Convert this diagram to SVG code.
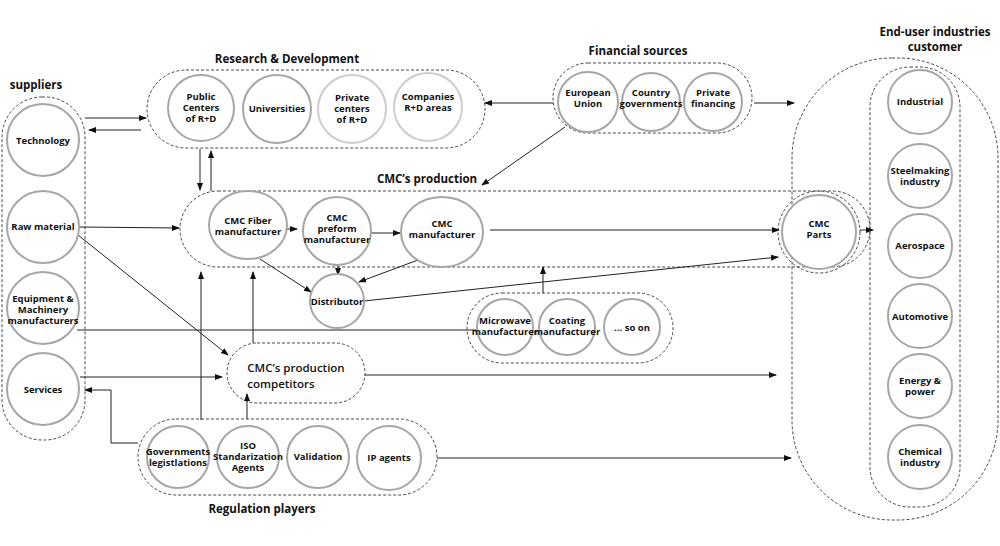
<svg xmlns="http://www.w3.org/2000/svg" width="1000" height="546" viewBox="0 0 1000 546">
<style>
.c{fill:#fff;stroke:#a6a6a6;stroke-width:2}
.d{fill:none;stroke:#333;stroke-width:0.9;stroke-dasharray:3,2}
.t{font-family:"Open Sans","Liberation Sans",sans-serif;font-weight:bold;font-size:9.5px;fill:#111;text-anchor:middle}
.h{font-family:"Open Sans","Liberation Sans",sans-serif;font-weight:bold;font-size:11.5px;fill:#111;text-anchor:middle}
.l{fill:none;stroke:#222;stroke-width:1}
</style>
<defs><marker id="a" markerWidth="8" markerHeight="8" refX="7" refY="4" orient="auto" markerUnits="userSpaceOnUse"><path d="M0,1 L8,4 L0,7z" fill="#111"/></marker></defs>
<rect width="1000" height="546" fill="#fff"/>
<g id="containers">
<rect class="d" x="2" y="97" width="83" height="343" rx="40"/>
<rect class="d" x="147" y="70" width="338" height="78" rx="39"/>
<rect class="d" x="553" y="63" width="199" height="70" rx="35"/>
<rect class="d" x="180" y="191" width="690" height="76" rx="38"/>
<circle class="d" cx="819" cy="232" r="41"/>
<rect class="d" x="467" y="293" width="206" height="70" rx="35"/>
<rect class="d" x="227" y="343" width="138" height="60" rx="30"/>
<rect class="d" x="138" y="419" width="299" height="76" rx="38"/>
<rect class="d" x="792" y="58" width="206" height="462" rx="100"/>
<rect class="d" x="870" y="67" width="90" height="440" rx="40"/>
</g>
<g class="h">
<text x="287" y="63">Research &amp; Development</text>
<text x="638" y="55">Financial sources</text>
<text x="36" y="89">suppliers</text>
<text x="427" y="183">CMC’s production</text>
<text x="262" y="513">Regulation players</text>
<text x="935" y="36">End-user industries</text>
<text x="935" y="51">customer</text>
</g>
<g id="connectors">
<line class="l" x1="85" y1="118" x2="146" y2="118" marker-end="url(#a)"/>
<line class="l" x1="141" y1="130" x2="89" y2="130" marker-end="url(#a)"/>
<line class="l" x1="200" y1="149" x2="200" y2="190" marker-end="url(#a)"/>
<line class="l" x1="211" y1="191" x2="211" y2="151" marker-end="url(#a)"/>
<line class="l" x1="80" y1="227" x2="179" y2="228" marker-end="url(#a)"/>
<line class="l" x1="78" y1="235" x2="228" y2="355" marker-end="url(#a)"/>
<line class="l" x1="77" y1="330" x2="477" y2="330"/>
<line class="l" x1="80" y1="377" x2="222" y2="377" marker-end="url(#a)"/>
<polyline class="l" points="138,443 111,443 111,390 85,390" marker-end="url(#a)"/>
<line class="l" x1="201" y1="420" x2="201" y2="272" marker-end="url(#a)"/>
<line class="l" x1="247" y1="419" x2="247" y2="394" marker-end="url(#a)"/>
<line class="l" x1="253" y1="343" x2="253" y2="272" marker-end="url(#a)"/>
<line class="l" x1="543" y1="293" x2="543" y2="267" marker-end="url(#a)"/>
<line class="l" x1="268" y1="229" x2="297" y2="229" marker-end="url(#a)"/>
<line class="l" x1="371" y1="233" x2="400" y2="233" marker-end="url(#a)"/>
<line class="l" x1="490" y1="230" x2="779" y2="230" marker-end="url(#a)"/>
<line class="l" x1="260" y1="259" x2="311" y2="292" marker-end="url(#a)"/>
<line class="l" x1="338" y1="265" x2="338" y2="275" marker-end="url(#a)"/>
<line class="l" x1="418" y1="260" x2="359" y2="282" marker-end="url(#a)"/>
<line class="l" x1="364" y1="301" x2="778" y2="257" marker-end="url(#a)"/>
<line class="l" x1="365" y1="375" x2="776" y2="375" marker-end="url(#a)"/>
<line class="l" x1="437" y1="458" x2="791" y2="458" marker-end="url(#a)"/>
<line class="l" x1="553" y1="103" x2="485" y2="103" marker-end="url(#a)"/>
<line class="l" x1="754" y1="103" x2="794" y2="103" marker-end="url(#a)"/>
<line class="l" x1="565" y1="127" x2="482" y2="185" marker-end="url(#a)"/>
<line class="l" x1="860" y1="230" x2="873" y2="230" marker-end="url(#a)"/>
</g>
<g id="tech"><circle class="c" cx="43" cy="140" r="36"/><text class="t" x="43" y="144">Technology</text></g>
<g id="raw"><circle class="c" cx="43" cy="227" r="36"/><text class="t" x="43" y="230">Raw material</text></g>
<g id="equip"><circle class="c" cx="43" cy="308" r="36"/><text class="t" x="43" y="302">Equipment &amp;</text><text class="t" x="43" y="313">Machinery</text><text class="t" x="43" y="324">manufacturers</text></g>
<g id="services"><circle class="c" cx="43" cy="389" r="36"/><text class="t" x="43" y="393">Services</text></g>
<g id="public"><circle class="c" cx="201" cy="108" r="33"/><text class="t" x="201" y="100">Public</text><text class="t" x="201" y="111">Centers</text><text class="t" x="201" y="122">of R+D</text></g>
<g id="univ"><circle class="c" cx="277" cy="109" r="34"/><text class="t" x="277" y="112">Universities</text></g>
<g id="private"><circle class="c" cx="352" cy="109" r="34" style="stroke:#ccc"/><text class="t" x="352" y="101">Private</text><text class="t" x="352" y="112">centers</text><text class="t" x="352" y="123">of R+D</text></g>
<g id="companies"><circle class="c" cx="428" cy="107" r="34" style="stroke:#ccc"/><text class="t" x="428" y="100">Companies</text><text class="t" x="428" y="111">R+D areas</text></g>
<g id="eu"><circle class="c" cx="588" cy="102" r="30"/><text class="t" x="588" y="96">European</text><text class="t" x="588" y="107">Union</text></g>
<g id="country"><circle class="c" cx="651" cy="102" r="29"/><text class="t" x="651" y="96">Country</text><text class="t" x="651" y="107">governments</text></g>
<g id="privfin"><circle class="c" cx="713" cy="102" r="29"/><text class="t" x="713" y="96">Private</text><text class="t" x="713" y="107">financing</text></g>
<g id="fiber"><ellipse class="c" cx="248" cy="225" rx="39" ry="34"/><text class="t" x="248" y="224">CMC Fiber</text><text class="t" x="248" y="235">manufacturer</text></g>
<g id="preform"><circle class="c" cx="337" cy="231" r="34"/><text class="t" x="337" y="221">CMC</text><text class="t" x="337" y="232">preform</text><text class="t" x="337" y="243">manufacturer</text></g>
<g id="cmcman"><ellipse class="c" cx="442" cy="232" rx="41" ry="35"/><text class="t" x="442" y="227">CMC</text><text class="t" x="442" y="238">manufacturer</text></g>
<g id="distributor"><circle class="c" cx="337" cy="301" r="27"/><text class="t" x="337" y="305">Distributor</text></g>
<g id="parts"><circle class="c" cx="819" cy="232" r="37"/><text class="t" x="819" y="227">CMC</text><text class="t" x="819" y="238">Parts</text></g>
<g id="microwave"><circle class="c" cx="505" cy="327" r="28"/><text class="t" x="505" y="324">Microwave</text><text class="t" x="505" y="335">manufacturer</text></g>
<g id="coating"><circle class="c" cx="567" cy="327" r="28"/><text class="t" x="567" y="324">Coating</text><text class="t" x="567" y="335">manufacturer</text></g>
<g id="soon"><circle class="c" cx="632" cy="327" r="28"/><text class="t" x="632" y="331">... so on</text></g>
<g id="competitors"><text class="h" x="296" y="372" style="font-weight:600">CMC’s production</text><text class="h" x="281" y="388" style="font-weight:600">competitors</text></g>
<g id="gov"><circle class="c" cx="178" cy="457" r="31"/><text class="t" x="178" y="455">Governments</text><text class="t" x="178" y="466">legistlations</text></g>
<g id="iso"><circle class="c" cx="248" cy="457" r="31"/><text class="t" x="248" y="449">ISO</text><text class="t" x="248" y="460">Standarization</text><text class="t" x="248" y="471">Agents</text></g>
<g id="validation"><circle class="c" cx="318" cy="457" r="31"/><text class="t" x="318" y="460">Validation</text></g>
<g id="ip"><circle class="c" cx="389" cy="458" r="32"/><text class="t" x="389" y="461">IP agents</text></g>
<g id="industrial"><circle class="c" cx="920" cy="102" r="32"/><text class="t" x="920" y="105">Industrial</text></g>
<g id="steel"><circle class="c" cx="920" cy="176" r="32"/><text class="t" x="920" y="174">Steelmaking</text><text class="t" x="920" y="185">industry</text></g>
<g id="aero"><circle class="c" cx="920" cy="246" r="32"/><text class="t" x="920" y="249">Aerospace</text></g>
<g id="auto"><circle class="c" cx="920" cy="316" r="32"/><text class="t" x="920" y="320">Automotive</text></g>
<g id="energy"><circle class="c" cx="920" cy="386" r="32"/><text class="t" x="920" y="384">Energy &amp;</text><text class="t" x="920" y="395">power</text></g>
<g id="chemical"><circle class="c" cx="920" cy="457" r="32"/><text class="t" x="920" y="455">Chemical</text><text class="t" x="920" y="466">industry</text></g>
</svg>
